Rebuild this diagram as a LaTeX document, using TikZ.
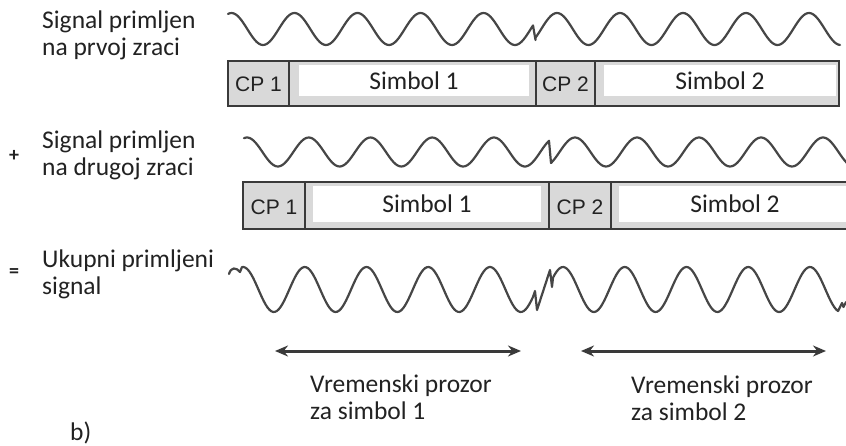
\documentclass[tikz,border=0pt]{standalone}
\usepackage{fontspec}
\setmainfont{Carlito}
\newfontfamily\cpfont{Liberation Sans}
\usetikzlibrary{arrows.meta}
\definecolor{ink}{HTML}{222222}
\definecolor{wavecol}{HTML}{464646}
\definecolor{edgecol}{HTML}{3A3A3A}
\definecolor{cellgrey}{HTML}{D9D9D9}
\begin{document}
\begin{tikzpicture}[x=1pt,y=-1pt,
  lbl/.style={anchor=base west, inner sep=0pt, font=\fontsize{25.5}{27}\selectfont, text=ink},
  cptext/.style={inner sep=0pt, font=\cpfont\fontsize{21}{22}\selectfont, text=ink},
  symtext/.style={inner sep=0pt, font=\fontsize{25.5}{27}\selectfont, text=ink},
  wavy/.style={draw=wavecol, line width=2.2pt, line join=round, line cap=round},
  boxline/.style={draw=edgecol, line width=1.9pt},
  span/.style={draw=edgecol, line width=3pt, {Stealth[length=13pt,width=11pt]}-{Stealth[length=13pt,width=11pt]}},
  sign/.style={inner sep=0pt, font=\bfseries\fontsize{20}{20}\selectfont, text=ink}]
\useasboundingbox (0,0) rectangle (846,446);
\clip (0,0) rectangle (846,446);

% ---------- row 1 ----------
\node[lbl] (l1a) at (42,29) {Signal primljen};
\node[lbl] (l1b) at (42,56) {na prvoj zraci};
\draw[wavy] plot[domain=228:533, samples=160] (\x,{29-16*cos(360/63*(\x-483.5))})
  -- (535.5,40)
  -- plot[domain=535.5:840, samples=160] (\x,{29-16*cos(360/63*(\x-557))});
\fill[cellgrey] (228,61) rectangle (839,106);
\fill[white] (299,65) rectangle (529,96);
\fill[white] (604,65) rectangle (836,96);
\draw[boxline] (228,61) rectangle (839,106);
\draw[boxline] (289,61) -- (289,106) (536,61) -- (536,106) (595,61) -- (595,106);
\node[cptext] (r1cp1) at (258.5,84) {CP 1};
\node[symtext] (r1s1) at (414,81) {Simbol 1};
\node[cptext] (r1cp2) at (565.5,84) {CP 2};
\node[symtext] (r1s2) at (720,81) {Simbol 2};

% ---------- row 2 ----------
\node[sign] (plus) at (14,156) {+};
\node[lbl] (l2a) at (42,149) {Signal primljen};
\node[lbl] (l2b) at (42,176) {na drugoj zraci};
\draw[wavy] plot[domain=244:549, samples=160] (\x,{152-14.5*cos(360/61.75*(\x-494))})
  -- (551,163)
  -- plot[domain=551:850, samples=160] (\x,{152-14.5*cos(360/62*(\x-575))});
\fill[cellgrey] (243,182) rectangle (860,229);
\fill[white] (313,186) rectangle (541,222);
\fill[white] (619,186) rectangle (860,222);
\draw[boxline] (243,182) rectangle (860,229);
\draw[boxline] (305,182) -- (305,229) (549,182) -- (549,229) (611,182) -- (611,229);
\node[cptext] (r2cp1) at (274,207) {CP 1};
\node[symtext] (r2s1) at (427,204) {Simbol 1};
\node[cptext] (r2cp2) at (580,207) {CP 2};
\node[symtext] (r2s2) at (735,204) {Simbol 2};

% ---------- row 3 ----------
\node[sign] (eq) at (14,273) {=};
\node[lbl] (l3a) at (42,268) {Ukupni primljeni};
\node[lbl] (l3b) at (42,295) {signal};
\draw[wavy] (229,274) .. controls (231,267) and (236,267) .. (240,272) -- (242,267)
  -- plot[domain=242:533, samples=160] (\x,{289.5-22.5*cos(360/61.75*(\x-490))})
  -- (535,291) -- (537,310) -- (550,270) -- (552,287)
  -- plot[domain=553:838, samples=160] (\x,{289.5-22.5*cos(360/61.75*(\x-810))})
  -- (842,303) -- (843.5,307) -- (846,302);

% ---------- time windows ----------
\coordinate (w1l) at (275,351);
\coordinate (w1r) at (521,351);
\coordinate (w2l) at (581,351);
\coordinate (w2r) at (826,351);
\draw[span] (w1l) -- (w1r);
\draw[span] (w2l) -- (w2r);
\node[lbl] (t1a) at (310,392) {Vremenski prozor};
\node[lbl] (t1b) at (310,419) {za simbol 1};
\node[lbl] (t2a) at (631,393) {Vremenski prozor};
\node[lbl] (t2b) at (631,420) {za simbol 2};
\node[lbl] (b) at (70,440) {b)};
\end{tikzpicture}
\end{document}
